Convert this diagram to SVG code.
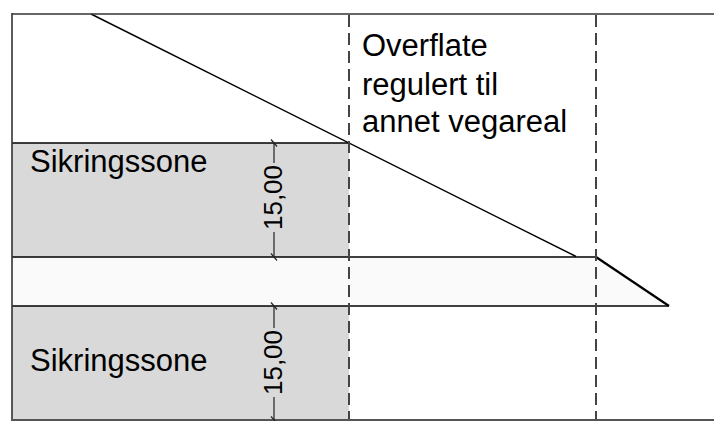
<svg xmlns="http://www.w3.org/2000/svg" width="714" height="421" viewBox="0 0 714 421">
<style>
.lbl{font-family:"Liberation Sans",Arial,sans-serif;font-size:31px;fill:#000}
.dim{font-family:"Liberation Sans",Arial,sans-serif;font-size:26px;fill:#000}
.ln{stroke:#000;stroke-width:1.4;fill:none}
.dash{stroke:#444;stroke-width:2;stroke-dasharray:12 6;fill:none}
.dl{stroke:#222;stroke-width:1.2;fill:none}
</style>
<rect width="714" height="421" fill="#fff"/>
<g id="sikringssone-top">
<rect x="12" y="143" width="337" height="114" fill="#d9d9d9"/>
<line class="ln" x1="12" y1="143" x2="349" y2="143"/>
<text class="lbl" x="30" y="172">Sikringssone</text>
</g>
<g id="sikringssone-bottom">
<rect x="12" y="306" width="337" height="114" fill="#d9d9d9"/>
<text class="lbl" x="30" y="371">Sikringssone</text>
</g>
<g id="veg">
<polygon points="12,257 596,257 669,306 12,306" fill="#fafafa"/>
<line class="ln" x1="12" y1="257" x2="596" y2="257"/>
<line class="ln" x1="12" y1="306" x2="669" y2="306"/>
<line x1="596" y1="257" x2="669" y2="306" stroke="#000" stroke-width="2.2"/>
</g>
<g id="overflate">
<text class="lbl" x="362" y="56">Overflate</text>
<text class="lbl" x="362" y="95">regulert til</text>
<text class="lbl" x="362" y="132">annet vegareal</text>
</g>
<g id="connectors">
<line class="ln" x1="91" y1="14" x2="576" y2="256.5"/>
<line class="dash" x1="349" y1="15" x2="349" y2="421"/>
<line class="dash" x1="596" y1="15" x2="596" y2="421"/>
<line x1="12" y1="14" x2="714" y2="14" stroke="#333" stroke-width="1.6"/>
<line x1="12" y1="13" x2="12" y2="421" stroke="#333" stroke-width="1.6"/>
<line x1="12" y1="420" x2="714" y2="420" stroke="#555" stroke-width="2"/>
</g>
<g id="dim-top">
<line class="dl" x1="274" y1="143" x2="274" y2="163"/>
<line class="dl" x1="274" y1="232" x2="274" y2="257"/>
<line class="dl" x1="271" y1="139.5" x2="277" y2="146.5"/>
<line class="dl" x1="271" y1="253.5" x2="277" y2="260.5"/>
<text class="dim" transform="translate(282,197.5) rotate(-90)" text-anchor="middle">15,00</text>
</g>
<g id="dim-bottom">
<line class="dl" x1="274" y1="306" x2="274" y2="328"/>
<line class="dl" x1="274" y1="397" x2="274" y2="420"/>
<line class="dl" x1="271" y1="302.5" x2="277" y2="309.5"/>
<line class="dl" x1="271" y1="416.5" x2="277" y2="423"/>
<text class="dim" transform="translate(282,362.5) rotate(-90)" text-anchor="middle">15,00</text>
</g>
</svg>
